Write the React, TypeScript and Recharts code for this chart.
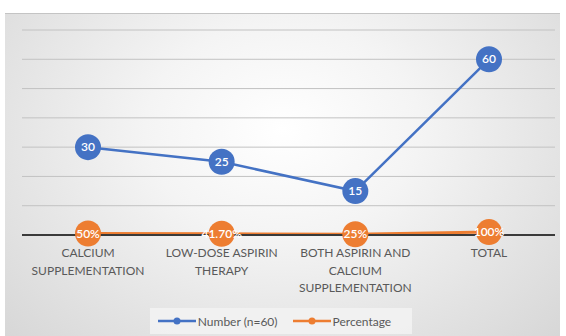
import React from 'react';
import { LineChart, Line, XAxis, YAxis, CartesianGrid, LabelList } from 'recharts';

const categories = [
    'CALCIUM\nSUPPLEMENTATION',
    'LOW-DOSE ASPIRIN\nTHERAPY',
    'BOTH ASPIRIN AND\nCALCIUM\nSUPPLEMENTATION',
    'TOTAL',
];
const numberValues = [30, 25, 15, 60];
const percentageValues = [0.5, 0.417, 0.25, 1];
const yTicks = [0, 10, 20, 30, 40, 50, 60, 70];

const BLUE = '#4472C4';
const ORANGE = '#ED7D31';
const FONT = 'Lato, "Open Sans", sans-serif';

const data = categories.map((name, i) => ({
    name,
    number: numberValues[i],
    percentage: percentageValues[i],
}));

const formatPct = (v: number) => {
    const p = Math.round(v * 10000) / 100;
    return Number.isInteger(p) ? `${p}%` : `${p.toFixed(2)}%`;
};

// circle marker with the value written inside it
const bubbleLabel = (color: string, format: (v: number) => string) => (props: any) => {
    const { x, y, value } = props;
    return (
        <g>
            <circle cx={x} cy={y} r={13} fill={color} />
            <text x={x} y={y} dy={4} textAnchor="middle" fill="#fff" fontSize={12} fontWeight={600} fontFamily={FONT}>
                {format(value)}
            </text>
        </g>
    );
};

const CategoryTick = (props: any) => {
    const { x, y, payload } = props;
    const lines = String(payload.value).split('\n');
    return (
        <g transform={`translate(${x},${y})`}>
            <text textAnchor="middle" fill="#595959" fontSize={12} fontFamily={FONT}>
                {lines.map((l, i) => (
                    <tspan key={i} x={0} dy={i === 0 ? 14 : 17.5}>{l}</tspan>
                ))}
            </text>
        </g>
    );
};

const LegendBox = () => {
    const item = (color: string, label: string) => (
        <div style={{ display: 'flex', alignItems: 'center', marginRight: 14 }}>
            <svg width={40} height={10}>
                <line x1={1} y1={5} x2={39} y2={5} stroke={color} strokeWidth={2.5} />
                <circle cx={20} cy={5} r={3.5} fill={color} />
            </svg>
            <span style={{ marginLeft: 1 }}>{label}</span>
        </div>
    );
    return (
        <div style={{
            position: 'absolute', left: 150, top: 308, width: 262, height: 26,
            display: 'flex', alignItems: 'center', justifyContent: 'center',
            background: 'rgba(242,242,242,0.9)',
            fontFamily: FONT, fontSize: 12, color: '#595959',
        }}>
            {item(BLUE, 'Number (n=60)')}
            {item(ORANGE, 'Percentage')}
        </div>
    );
};

export default function App() {
    return (
        <div style={{ position: 'relative', width: 566, height: 336, background: '#fff', overflow: 'hidden' }}>
            <style>{'body{margin:0}'}</style>
            <div style={{
                position: 'absolute', left: 5, top: 13, width: 555, height: 330,
                borderTop: '1px solid #c4c4c4',
                background: 'radial-gradient(ellipse at 50% 35%, #ffffff 0%, #f4f4f4 35%, #d6d6d6 100%)',
            }} />
            <div style={{ position: 'absolute', left: 0, top: 0 }}>
                <LineChart width={566} height={336} data={data} margin={{ top: 30, right: 11, bottom: 71, left: 22 }}>
                    <CartesianGrid vertical={false} stroke="#c2c2c2" strokeWidth={1} />
                    <YAxis hide domain={[0, 70]} ticks={yTicks} />
                    <XAxis
                        dataKey="name"
                        height={30}
                        padding={{ left: 66, right: 66 }}
                        axisLine={{ stroke: '#3a3a3a', strokeWidth: 2 }}
                        tickLine={false}
                        interval={0}
                        tick={<CategoryTick />}
                    />
                    <Line
                        dataKey="number"
                        stroke={BLUE}
                        strokeWidth={2.5}
                        dot={false}
                        isAnimationActive={false}
                    >
                        <LabelList dataKey="number" content={bubbleLabel(BLUE, (v) => String(v))} />
                    </Line>
                    <Line
                        dataKey="percentage"
                        stroke={ORANGE}
                        strokeWidth={3}
                        dot={false}
                        isAnimationActive={false}
                    >
                        <LabelList dataKey="percentage" content={bubbleLabel(ORANGE, formatPct)} />
                    </Line>
                </LineChart>
            </div>
            <LegendBox />
        </div>
    );
}
